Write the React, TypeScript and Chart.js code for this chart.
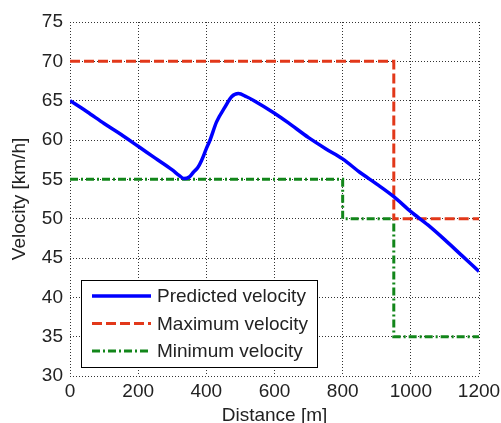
import React, { useEffect, useRef } from "react";
import { Chart, registerables } from "chart.js";

Chart.register(...registerables);

const predDistance = [0, 50, 100, 150, 200, 250, 300, 320, 334, 350, 362, 375, 386, 400, 411, 430, 455, 474, 494, 518, 540, 600, 640, 700, 750, 800, 850, 900, 950, 1000, 1050, 1100, 1150, 1200];
const predVelocity = [65, 63.6, 62.1, 60.7, 59.2, 57.7, 56.2, 55.5, 55.1, 55.3, 55.9, 56.5, 57.4, 58.9, 60.0, 62.3, 64.2, 65.5, 65.9, 65.5, 65.0, 63.4, 62.2, 60.3, 58.9, 57.6, 55.9, 54.4, 52.8, 50.9, 49.2, 47.3, 45.3, 43.3];

const maxDistance = [0, 950, 950, 1200];
const maxVelocity = [70, 70, 50, 50];

const minDistance = [0, 800, 800, 950, 950, 1200];
const minVelocity = [55, 55, 50, 50, 35, 35];

const seriesLabels = ["Predicted velocity", "Maximum velocity", "Minimum velocity"];

const FONT = "'Liberation Sans', Arial, Helvetica, sans-serif";

const toPoints = (xs: number[], ys: number[]) => xs.map((x, i) => ({ x, y: ys[i] }));

const insideLegend = {
  id: "insideLegend",
  afterDraw(chart: any) {
    const { ctx, chartArea } = chart;
    const left = chartArea.left + 11;
    const bottom = chartArea.bottom - 9;
    const width = 236;
    const height = 87;
    const top = bottom - height;
    ctx.save();
    ctx.fillStyle = "#ffffff";
    ctx.fillRect(left, top, width, height);
    ctx.strokeStyle = "#000000";
    ctx.lineWidth = 1;
    ctx.setLineDash([]);
    ctx.strokeRect(Math.round(left) + 0.5, Math.round(top) + 0.5, width, height);
    const rowY = [top + 16, top + 43.5, top + 71];
    chart.data.datasets.forEach((ds: any, i: number) => {
      const y = rowY[i];
      ctx.beginPath();
      ctx.strokeStyle = ds.borderColor;
      ctx.lineWidth = ds.borderWidth;
      ctx.setLineDash(ds.borderDash || []);
      ctx.moveTo(left + 11, y);
      ctx.lineTo(left + 70, y);
      ctx.stroke();
      ctx.setLineDash([]);
      ctx.fillStyle = "#222222";
      ctx.font = `19px ${FONT}`;
      ctx.textBaseline = "middle";
      ctx.textAlign = "left";
      ctx.fillText(ds.label, left + 76, y + 1);
    });
    ctx.restore();
  },
};

export default function App() {
  const canvasRef = useRef<HTMLCanvasElement | null>(null);

  useEffect(() => {
    if (!canvasRef.current) return;
    const gridCommon = {
      color: "#333333",
      lineWidth: 1,
      drawTicks: false,
    };
    const chart = new Chart(canvasRef.current, {
      type: "line",
      data: {
        datasets: [
          {
            label: seriesLabels[0],
            data: toPoints(predDistance, predVelocity),
            borderColor: "#0000ff",
            borderWidth: 3.5,
            pointRadius: 0,
            cubicInterpolationMode: "monotone",
            fill: false,
          },
          {
            label: seriesLabels[1],
            data: toPoints(maxDistance, maxVelocity),
            borderColor: "#e2381a",
            borderWidth: 3,
            borderDash: [10, 4],
            pointRadius: 0,
            fill: false,
          },
          {
            label: seriesLabels[2],
            data: toPoints(minDistance, minVelocity),
            borderColor: "#12861a",
            borderWidth: 3,
            borderDash: [8, 3, 2, 3],
            pointRadius: 0,
            fill: false,
          },
        ],
      },
      options: {
        animation: false,
        responsive: true,
        maintainAspectRatio: false,
        layout: { padding: { top: 22, right: 22, left: 0, bottom: 0 } },
        plugins: {
          legend: { display: false },
          tooltip: { enabled: false },
        },
        scales: {
          x: {
            type: "linear",
            min: 0,
            max: 1200,
            ticks: {
              stepSize: 200,
              padding: 4,
              color: "#222222",
              font: { family: FONT, size: 19 },
              callback: (v: any) => String(v),
            },
            grid: gridCommon,
            border: { display: false, dash: [1, 2] },
            title: {
              display: true,
              text: "Distance [m]",
              color: "#222222",
              font: { family: FONT, size: 19, lineHeight: 1 },
              padding: { top: 0, bottom: -2 },
            },
            afterFit: (scale: any) => {
              scale.height = 47;
              scale.paddingLeft = 0;
              scale.paddingRight = 0;
            },
          },
          y: {
            type: "linear",
            min: 30,
            max: 75,
            ticks: {
              stepSize: 5,
              padding: 7,
              color: "#222222",
              font: { family: FONT, size: 19 },
              callback: (v: any) => String(v),
            },
            grid: gridCommon,
            border: { display: false, dash: [1, 2] },
            title: {
              display: true,
              text: "Velocity [km/h]",
              color: "#222222",
              font: { family: FONT, size: 19, lineHeight: 1 },
              padding: { top: 10, bottom: 0 },
            },
            afterFit: (scale: any) => {
              scale.width = 70;
              scale.paddingTop = 0;
              scale.paddingBottom = 0;
            },
          },
        },
      } as any,
      plugins: [insideLegend],
    });
    return () => chart.destroy();
  }, []);

  return (
    <div style={{ position: "fixed", left: 0, top: 0, width: 501, height: 423, background: "#ffffff" }}>
      <canvas ref={canvasRef} />
    </div>
  );
}
